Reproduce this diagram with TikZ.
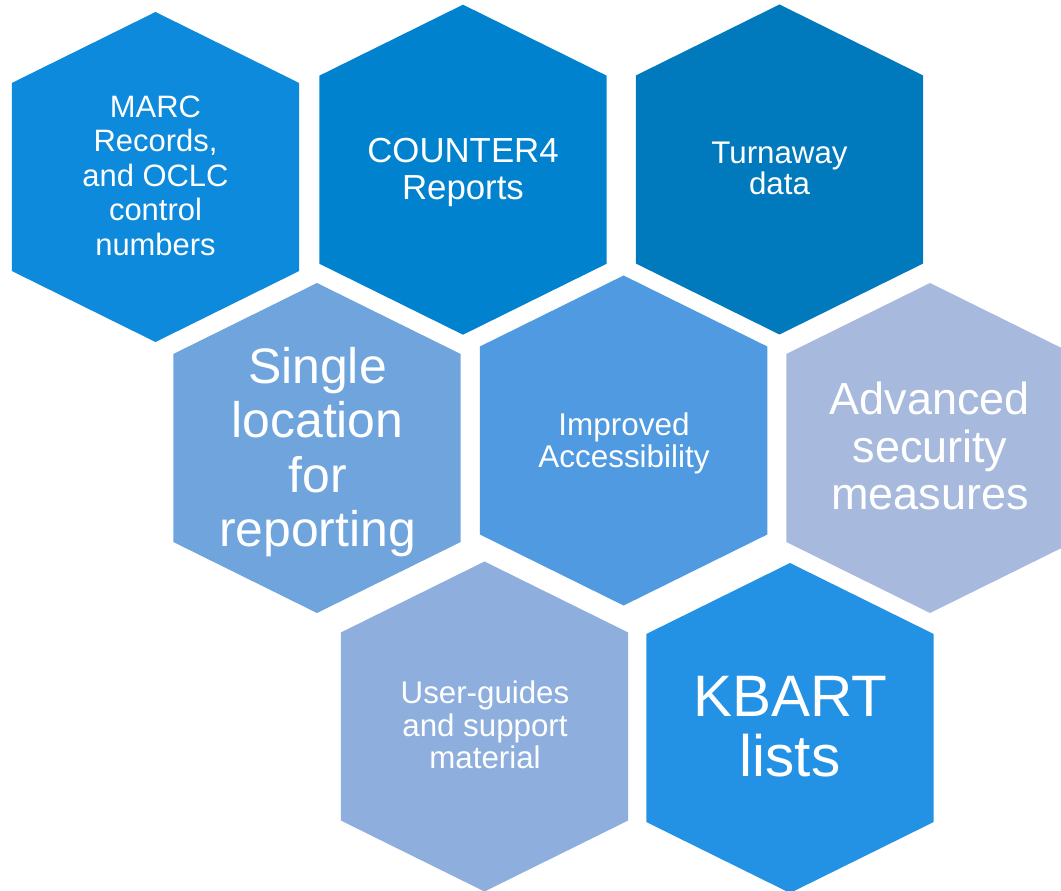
\documentclass[tikz,border=0pt]{standalone}
\usepackage{fontspec}
\setmainfont{Liberation Sans}
\usepackage{tikz}

\definecolor{marcblue}{HTML}{0D8ADB}
\definecolor{counterblue}{HTML}{0082CF}
\definecolor{turnblue}{HTML}{0079BD}
\definecolor{singleblue}{HTML}{70A4DD}
\definecolor{accessblue}{HTML}{4F9AE1}
\definecolor{securityblue}{HTML}{A7BADD}
\definecolor{guideblue}{HTML}{8EAFDD}
\definecolor{kbartblue}{HTML}{2492E4}

\tikzset{
	hexagon/.pic={
		\fill[pic actions] (0,-165) -- (143.7,-94) -- (143.7,94) -- (0,165) -- (-143.7,94) -- (-143.7,-94) -- cycle;
	},
	hextext/.style={text=white, align=center, inner sep=0pt}
}

\begin{document}
\begin{tikzpicture}[x=0.02cm, y=-0.02cm]
		\useasboundingbox (0,0) rectangle (1061,891);
		\clip (0,0) rectangle (1061,891);
		% top row
		\pic[fill=marcblue] (marchex) at (155.5,177) {hexagon};
		\pic[fill=counterblue] (counterhex) at (463,169.7) {hexagon};
		\pic[fill=turnblue] (turnhex) at (779.5,169.5) {hexagon};
		% middle row
		\pic[fill=singleblue] (singlehex) at (317,448) {hexagon};
		\pic[fill=accessblue] (accesshex) at (623.6,440.5) {hexagon};
		\pic[fill=securityblue] (securityhex) at (930,448) {hexagon};
		% bottom row
		\pic[fill=guideblue] (guidehex) at (484.5,726.5) {hexagon};
		\pic[fill=kbartblue] (kbarthex) at (790,728) {hexagon};
		
		\node[hextext, font=\fontsize{17.6}{19.6}\selectfont] (marc) at (155.5,175.5) {MARC\\Records,\\and OCLC\\control\\numbers};
		\node[hextext, font=\fontsize{19.8}{21}\selectfont] (counter) at (463,172.5) {COUNTER4\\Reports};
		\node[hextext, font=\fontsize{17.8}{17.6}\selectfont] (turnaway) at (779.5,168.5) {Turnaway\\data};
		\node[hextext, font=\fontsize{28.4}{31}\selectfont] (single) at (317.5,452) {Single\\location\\for\\reporting};
		\node[hextext, font=\fontsize{17.9}{18.2}\selectfont] (access) at (624,443) {Improved\\Accessibility};
		\node[hextext, font=\fontsize{25.6}{27}\selectfont] (security) at (930,446) {Advanced\\security\\measures};
		\node[hextext, font=\fontsize{17.8}{18.5}\selectfont] (guides) at (485,725) {User-guides\\and support\\material};
		\node[hextext, font=\fontsize{33.3}{34.1}\selectfont] (kbart) at (790,726.5) {KBART\\lists};
\end{tikzpicture}
\end{document}
